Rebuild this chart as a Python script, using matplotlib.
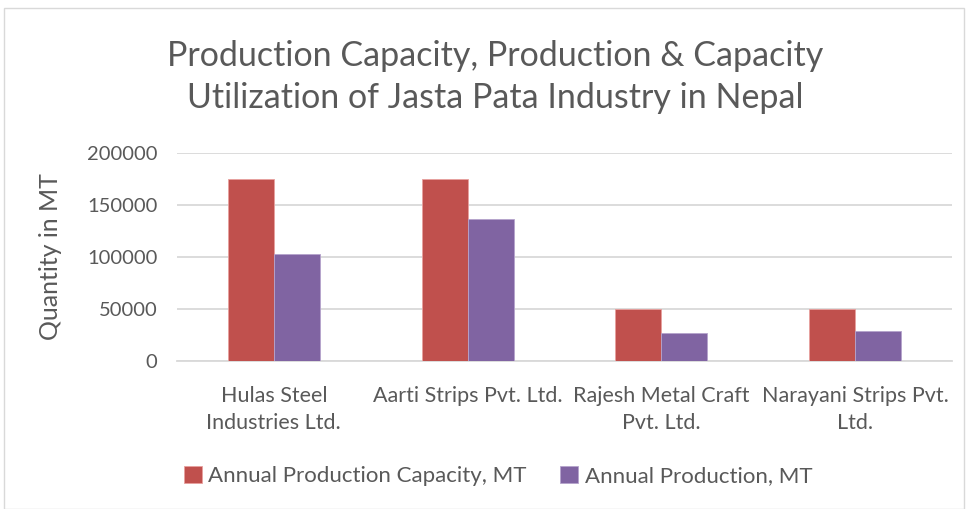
import numpy as np
import matplotlib
matplotlib.use("Agg")
import matplotlib.pyplot as plt
from matplotlib.patches import Rectangle

companies = ["Hulas Steel\nIndustries Ltd.", "Aarti Strips Pvt. Ltd.",
             "Rajesh Metal Craft\nPvt. Ltd.", "Narayani Strips Pvt.\nLtd."]
capacity = [175000, 175000, 50000, 50000]
production = [103000, 136000, 27000, 29000]

red = "#C0504D"
purple = "#8064A2"
grey = "#595959"

plt.rcParams['font.family'] = ['Lato', 'DejaVu Sans']

fig = plt.figure(figsize=(9.69, 5.09), dpi=100)
ax = fig.add_axes([177/969, 1-361/509, (952-177)/969, (361-152.7)/509])

x = np.arange(len(companies))
w = 0.237
ax.bar(x - w/2, capacity, w, color=red, edgecolor="#E8A09E", linewidth=0.6,
       label="Annual Production Capacity, MT", zorder=3)
ax.bar(x + w/2, production, w, color=purple, edgecolor="#B5A3CC", linewidth=0.6,
       label="Annual Production, MT", zorder=3)

ax.set_xlim(-0.5, 3.5)
ax.set_ylim(0, 200000)
ax.set_yticks(range(0, 200001, 50000))
ax.yaxis.grid(True, color="#D9D9D9", linewidth=1.3, zorder=0)
ax.set_axisbelow(True)
for s in ["top", "right", "left"]:
    ax.spines[s].set_visible(False)
ax.spines["bottom"].set_color("#D9D9D9")
ax.spines["bottom"].set_linewidth(1.3)
ax.tick_params(length=0, colors=grey)
ax.tick_params(axis="y", pad=14, labelsize=14.5)
ax.tick_params(axis="x", pad=18, labelsize=15.5)
ax.set_xticks(x)
ax.set_xticklabels(companies, linespacing=1.45)
ax.set_ylabel("Quantity in MT", fontsize=18, color=grey, labelpad=18)

fig.text(495/969, 1-77/509, "Production Capacity, Production & Capacity\nUtilization of Jasta Pata Industry in Nepal",
         ha="center", va="center", fontsize=24.5, color=grey, linespacing=1.38)

ax.legend(loc="center", bbox_to_anchor=((498-177)/775, (476-361)/(152.7-361)), ncol=2,
          frameon=False, fontsize=16, labelcolor=grey, handlelength=0.8,
          handleheight=0.8, handletextpad=0.3, columnspacing=1.5)

fig.patches.append(Rectangle((4/969, 0), 960/969, 1-8/509, transform=fig.transFigure,
                             fill=False, edgecolor="#D9D9D9", linewidth=1))

fig.savefig("out.png", dpi=100, facecolor="white")
